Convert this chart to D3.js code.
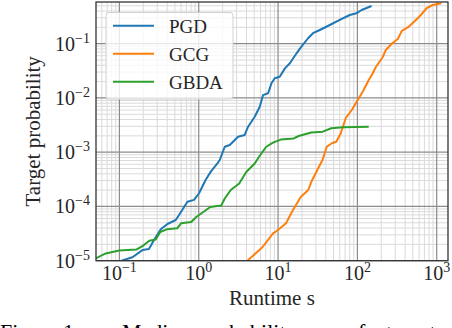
<!doctype html>
<html>
  <head>
    <script src="https://cdnjs.cloudflare.com/ajax/libs/d3/7.8.5/d3.min.js" type="text/JavaScript"></script>
    <style>
      body { margin: 0; background: #fff; }
      svg { display: block; }
      text { font-family: "Liberation Serif", "Times New Roman", serif; }
    </style>
  </head>
  <body>
    <svg width="452" height="328"></svg>
    <script>

      var methods = ["PGD", "GCG", "GBDA"];
      var colors = ["#1f77b4", "#ff7f0e", "#2ca02c"];

      var pgdRuntime = [0.106, 0.146, 0.195, 0.236, 0.273, 0.332, 0.403, 0.513, 0.565, 0.721, 0.873, 1.01,
        1.22, 1.42, 1.72, 1.84, 2.13, 2.46, 3.13, 3.80, 4.19, 5.08, 5.88, 6.47, 7.48, 8.26, 9.08, 10.5,
        12.2, 14.1, 17.1, 19.7, 23.9, 27.6, 33.6, 44.9, 60.0, 80.2, 97.4, 113, 151];
      var pgdProb = [1.0e-5, 1.16e-5, 1.57e-5, 1.64e-5, 2.41e-5, 3.80e-5, 4.75e-5, 5.63e-5, 6.96e-5, 1.22e-4, 1.32e-4, 1.75e-4,
        3.08e-4, 4.38e-4, 6.24e-4, 7.18e-4, 1.26e-3, 1.36e-3, 1.93e-3, 2.08e-3, 2.95e-3, 4.51e-3, 6.90e-3, 1.13e-2, 1.22e-2, 1.86e-2, 2.30e-2, 2.46e-2,
        3.51e-2, 4.35e-2, 6.65e-2, 8.81e-2, 0.126, 0.156, 0.179, 0.221, 0.274, 0.338, 0.363, 0.418, 0.495];

      var gcgRuntime = [4.11, 6.35, 8.65, 10.0, 12.6, 15.3, 19.3, 24.0, 26.2, 30.8, 36.3, 41.1, 47.6, 54.2,
        61.8, 71.4, 85.0, 101, 120, 139, 152, 171, 209, 228, 275, 323, 363, 432, 530, 631, 750, 893, 1143];
      var gcgProb = [1.0e-5, 1.77e-5, 3.20e-5, 3.68e-5, 4.89e-5, 8.41e-5, 1.49e-4, 2.01e-4, 2.82e-4, 4.50e-4, 7.18e-4, 1.26e-3, 1.46e-3, 1.56e-3,
        2.23e-3, 4.27e-3, 6.00e-3, 9.17e-3, 1.40e-2, 2.14e-2, 2.65e-2, 3.72e-2, 5.69e-2, 7.66e-2, 0.102, 0.122, 0.172, 0.199, 0.262, 0.338, 0.455, 0.517, 0.556];

      var gbdaRuntime = [0.0502, 0.0672, 0.0994, 0.165, 0.200, 0.238, 0.287, 0.327, 0.395, 0.536, 0.598, 0.804, 0.930,
        1.12, 1.40, 1.92, 2.13, 2.53, 3.24, 3.97, 5.08, 6.18, 7.10, 8.64, 10.8, 15.8, 18.2, 26.2, 36.6, 46.9, 65.5, 139];
      var gbdaProb = [1.10e-5, 1.36e-5, 1.54e-5, 1.61e-5, 1.90e-5, 2.34e-5, 2.46e-5, 3.38e-5, 3.79e-5, 3.96e-5, 4.89e-5, 5.16e-5, 6.39e-5,
        7.73e-5, 9.77e-5, 1.04e-4, 1.40e-4, 2.01e-4, 2.65e-4, 4.32e-4, 6.19e-4, 9.55e-4, 1.26e-3, 1.50e-3, 1.71e-3, 1.79e-3, 1.99e-3, 2.31e-3, 2.39e-3, 2.76e-3, 2.88e-3, 2.95e-3];

      var xTickExps = [-1, 0, 1, 2, 3];
      var yTickExps = [-5, -4, -3, -2, -1];
      var xLabel = "Runtime s";
      var yLabel = "Target probability";
      var caption = ["Figure", "1:", "Median", "probability", "of", "target"];

      var runtimes = [pgdRuntime, gcgRuntime, gbdaRuntime];
      var probs = [pgdProb, gcgProb, gbdaProb];
      var series = methods.map((m, i) => ({
        name: m, color: colors[i],
        values: runtimes[i].map((t, j) => ({t: t, p: probs[i][j]}))
      }));

      var pL = 96, pR = 448, pT = 2, pB = 260.7;
      var x = d3.scaleLog().domain([0.0507, 1388]).range([pL, pR]);
      var y = d3.scaleLog().domain([1e-5, 0.587]).range([pB, pT]);

      var svg = d3.select("svg");

      svg.append("clipPath").attr("id", "plot")
        .append("rect")
          .attr("x", pL).attr("y", pT)
          .attr("width", pR - pL).attr("height", pB - pT);

      // minor + major grid
      var xMinor = [], yMinor = [];
      for (var e = -2; e <= 3; e++) {
        for (var k = 2; k <= 9; k++) {
          var v = k * Math.pow(10, e);
          if (v > x.domain()[0] && v < x.domain()[1]) xMinor.push(v);
        }
      }
      for (var e = -5; e <= 0; e++) {
        for (var k = 2; k <= 9; k++) {
          var v = k * Math.pow(10, e);
          if (v > y.domain()[0] && v < y.domain()[1]) yMinor.push(v);
        }
      }

      var grid = svg.append("g");
      grid.selectAll(".xminor").data(xMinor).enter().append("line")
        .attr("x1", d => x(d)).attr("x2", d => x(d))
        .attr("y1", pT).attr("y2", pB)
        .style("stroke", "#dadada").style("stroke-width", 1);
      grid.selectAll(".yminor").data(yMinor).enter().append("line")
        .attr("x1", pL).attr("x2", pR)
        .attr("y1", d => y(d)).attr("y2", d => y(d))
        .style("stroke", "#dadada").style("stroke-width", 1);
      grid.selectAll(".xmajor").data(xTickExps).enter().append("line")
        .attr("x1", d => x(Math.pow(10, d))).attr("x2", d => x(Math.pow(10, d)))
        .attr("y1", pT).attr("y2", pB)
        .style("stroke", "#8c8c8c").style("stroke-width", 1.2);
      grid.selectAll(".ymajor").data(yTickExps).enter().append("line")
        .attr("x1", pL).attr("x2", pR)
        .attr("y1", d => y(Math.pow(10, d))).attr("y2", d => y(Math.pow(10, d)))
        .style("stroke", "#8c8c8c").style("stroke-width", 1.2);

      var line = d3.line().x(d => x(d.t)).y(d => y(d.p));

      svg.append("g").attr("clip-path", "url(#plot)")
        .selectAll("path").data(series)
        .enter()
        .append("path")
          .attr("d", d => line(d.values))
          .style("fill", "none")
          .style("stroke", d => d.color)
          .style("stroke-width", 2)
          .style("stroke-linejoin", "round");

      // frame
      svg.append("rect")
        .attr("x", pL).attr("y", pT)
        .attr("width", pR - pL).attr("height", pB - pT)
        .style("fill", "none").style("stroke", "#333").style("stroke-width", 1.3);

      // tick labels
      var xt = svg.selectAll(".xt").data(xTickExps).enter().append("text")
        .attr("x", d => x(Math.pow(10, d)))
        .attr("y", 280)
        .attr("text-anchor", "middle")
        .style("font-size", "20px").style("fill", "#262626");
      xt.append("tspan").text("10");
      xt.append("tspan").attr("dy", -8).style("font-size", "14px")
        .text(d => d < 0 ? "\u2212" + (-d) : d);

      var yt = svg.selectAll(".yt").data(yTickExps).enter().append("text")
        .attr("x", 90)
        .attr("y", d => y(Math.pow(10, d)) + 7)
        .attr("text-anchor", "end")
        .style("font-size", "20px").style("fill", "#262626");
      yt.append("tspan").text("10");
      yt.append("tspan").attr("dy", -8).style("font-size", "14px")
        .text(d => d < 0 ? "\u2212" + (-d) : d);

      // axis labels
      svg.append("text")
        .attr("x", (pL + pR) / 2).attr("y", 305)
        .attr("text-anchor", "middle")
        .style("font-size", "21px").style("fill", "#262626")
        .text(xLabel);
      svg.append("text")
        .attr("transform", "translate(40," + ((pT + pB) / 2) + ") rotate(-90)")
        .attr("text-anchor", "middle")
        .style("font-size", "21px").style("fill", "#262626")
        .text(yLabel);

      // legend
      var lg = svg.append("g");
      lg.append("rect")
        .attr("x", 106).attr("y", 12.5).attr("width", 127).attr("height", 86.5)
        .attr("rx", 3)
        .style("fill", "#fff").style("fill-opacity", 0.8)
        .style("stroke", "#d0d0d0").style("stroke-width", 1);
      var item = lg.selectAll(".item").data(series).enter().append("g")
        .attr("transform", (d, i) => "translate(0," + (25.7 + i * 28) + ")");
      item.append("line")
        .attr("x1", 113).attr("x2", 154)
        .style("stroke", d => d.color).style("stroke-width", 2);
      item.append("text")
        .attr("x", 169).attr("y", 7.6)
        .style("font-size", "19px").style("fill", "#262626")
        .text(d => d.name);

      // figure caption (cut off by the window)
      var capX = [0, 63, 122, 200, 347, 386];
      svg.append("g").selectAll("text").data(caption).enter().append("text")
        .attr("x", (d, i) => capX[i]).attr("y", 339)
        .style("font-size", "22px").style("fill", "#000")
        .text(d => d);
    </script>
  </body>
</html>
